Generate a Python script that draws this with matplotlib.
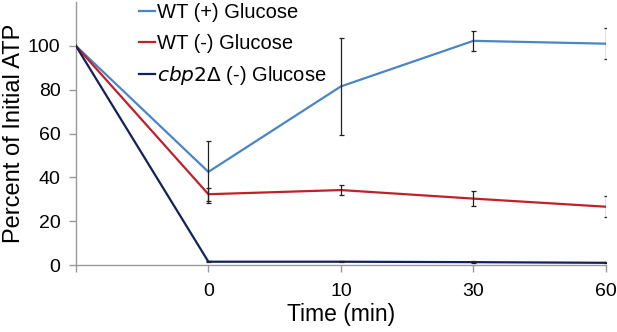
import matplotlib
matplotlib.use('Agg')
matplotlib.rcParams['font.family'] = ['Liberation Sans', 'DejaVu Sans']
import matplotlib.pyplot as plt

# categories on the x axis (first point = initial, unlabeled)
time_labels = ['', '0', '10', '30', '60']

wt_plus = [100, 42.5, 81.5, 102.3, 101.0]
wt_plus_err = [0, 14, 22, 4.5, 7]

wt_minus = [100, 32.3, 34.2, 30.3, 26.6]
wt_minus_err = [0, 3, 2.3, 3.5, 4.8]

cbp2 = [100, 1.5, 1.5, 1.3, 1.0]
cbp2_err = [0, 0.3, 0.3, 0.3, 0.3]

labels = ['WT (+) Glucose', 'WT (-) Glucose', r'$\it{cbp2}$$\Delta$ (-) Glucose']
colors = ['#4a86c6', '#c0202a', '#14205a']

fig = plt.figure(figsize=(6.17, 3.32), dpi=100)
ax = fig.add_axes([0.123, 0.2018, 0.859, 0.792])

x = list(range(len(time_labels)))
series = [(wt_plus, wt_plus_err), (wt_minus, wt_minus_err), (cbp2, cbp2_err)]
handles = []
for (vals, err), c, lab in zip(series, colors, labels):
    line, = ax.plot(x, vals, color=c, linewidth=1.6, label=lab, zorder=3)
    ax.errorbar(x[1:], vals[1:], yerr=err[1:], fmt='none', ecolor='#222222',
                elinewidth=0.9, capsize=1.8, capthick=0.9, zorder=4)
    handles.append(line)

ax.set_xlim(0, 4)
ax.set_ylim(0, 120)
ax.set_yticks([0, 20, 40, 60, 80, 100])
ax.set_xticks(x)
ax.set_xticklabels(time_labels)
ax.tick_params(axis='both', labelsize=14, color='#999999', length=5, width=1)
ax.tick_params(axis='x', pad=8)
ax.tick_params(axis='y', pad=6)

for s in ['top', 'right']:
    ax.spines[s].set_visible(False)
for s in ['left', 'bottom']:
    ax.spines[s].set_color('#999999')
    ax.spines[s].set_linewidth(1)
ax.spines['bottom'].set_zorder(1)

ax.set_xlabel('Time (min)', fontsize=16.5, labelpad=2)
ax.set_ylabel('Percent of Initial ATP', fontsize=17, labelpad=2)

leg = ax.legend(handles=handles, loc='upper left', bbox_to_anchor=(0.093, 1.05),
                frameon=False, fontsize=14.5, handlelength=0.8, handletextpad=0.1,
                labelspacing=0.58, borderaxespad=0.3)

fig.savefig('out.png', dpi=100)
